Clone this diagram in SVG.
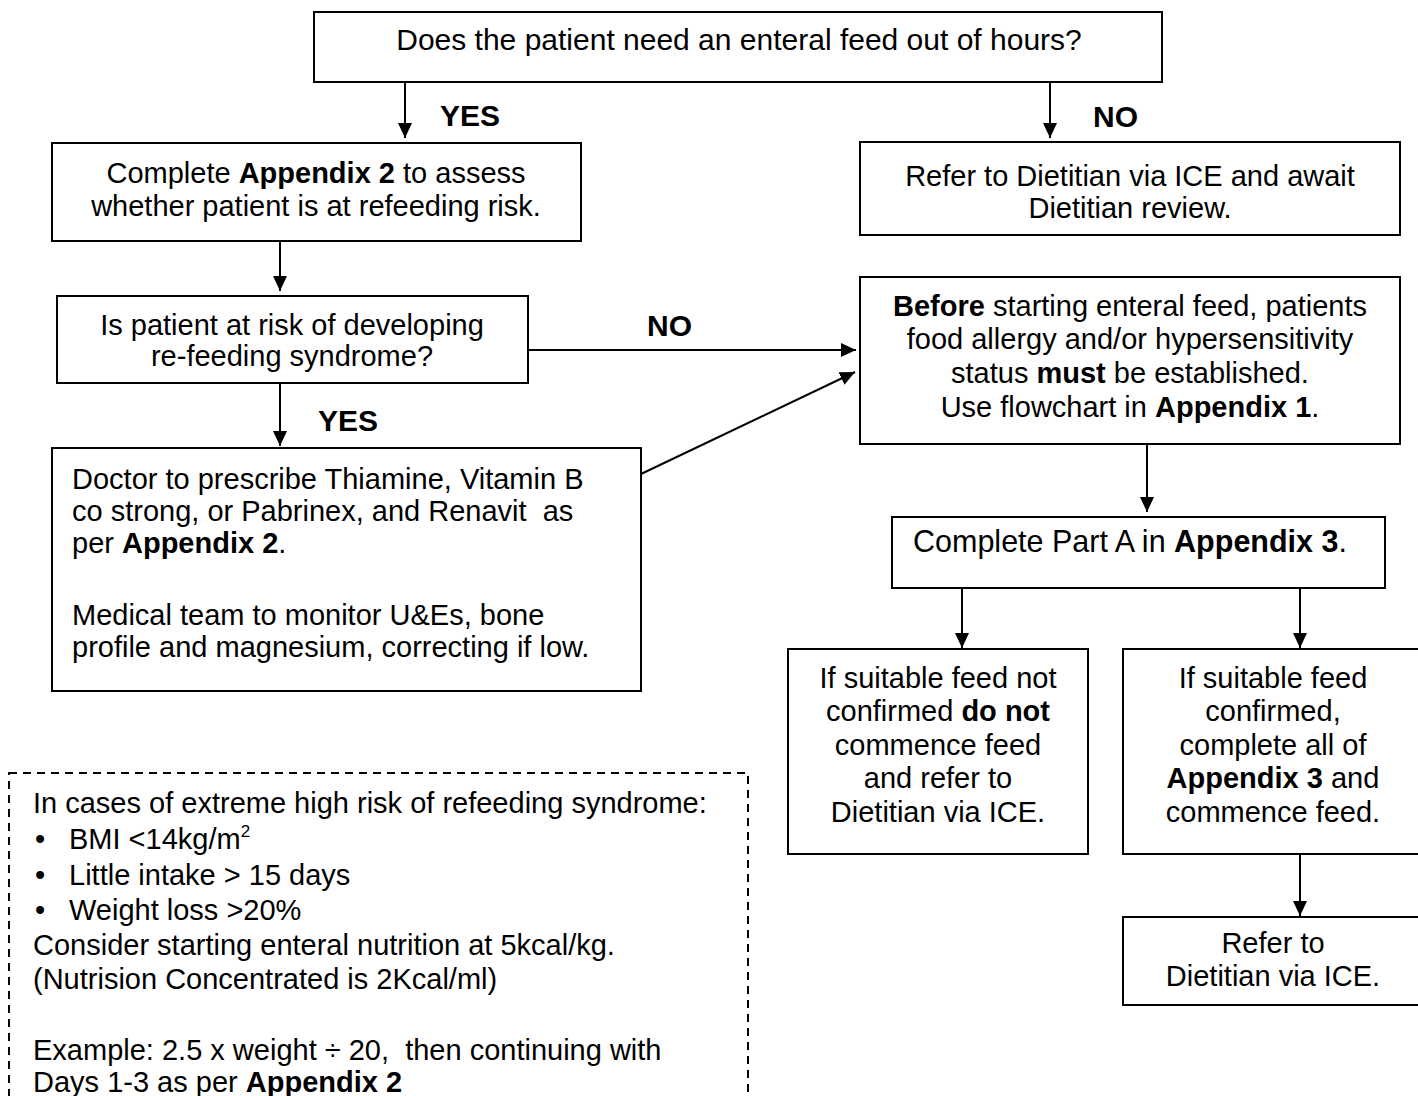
<svg xmlns="http://www.w3.org/2000/svg" width="1418" height="1096" viewBox="0 0 1418 1096">
<defs>
<marker id="ah" viewBox="0 0 15 14" refX="15" refY="7" markerWidth="15" markerHeight="14" markerUnits="userSpaceOnUse" orient="auto">
<path d="M0,0 L15,7 L0,14 z" fill="#000"/>
</marker>
<style>
.box{fill:#fff;stroke:#000;stroke-width:2}
.t{font-family:"Liberation Sans",Arial,sans-serif;font-size:29px;fill:#000}
.c{text-anchor:middle}
.b{font-weight:bold}
.lbl{font-family:"Liberation Sans",Arial,sans-serif;font-size:30px;font-weight:bold;fill:#000}
.ln{stroke:#000;stroke-width:2;fill:none;marker-end:url(#ah)}
</style>
</defs>
<rect width="1418" height="1096" fill="#fff"/>
<g id="connectors">
<line class="ln" x1="405" y1="82" x2="405" y2="138"/>
<line class="ln" x1="1050" y1="82" x2="1050" y2="138"/>
<line class="ln" x1="280" y1="241" x2="280" y2="291"/>
<line class="ln" x1="528" y1="350" x2="856" y2="350"/>
<line class="ln" x1="280" y1="383" x2="280" y2="446"/>
<line class="ln" x1="641" y1="474" x2="855" y2="372"/>
<line class="ln" x1="1147" y1="444" x2="1147" y2="512"/>
<line class="ln" x1="962" y1="588" x2="962" y2="648"/>
<line class="ln" x1="1300" y1="588" x2="1300" y2="648"/>
<line class="ln" x1="1300" y1="854" x2="1300" y2="916"/>
<text class="lbl" x="440" y="126">YES</text>
<text class="lbl" x="1093" y="127">NO</text>
<text class="lbl" x="647" y="336">NO</text>
<text class="lbl" x="318" y="431">YES</text>
</g>
<g id="n-start">
<rect class="box" x="314" y="12" width="848" height="70"/>
<text class="t c" x="739" y="50" style="font-size:30px">Does the patient need an enteral feed out of hours?</text>
</g>
<g id="n-appendix2">
<rect class="box" x="52" y="143" width="529" height="98"/>
<text class="t c" x="316" y="183">Complete <tspan class="b">Appendix 2</tspan> to assess</text>
<text class="t c" x="316" y="216">whether patient is at refeeding risk.</text>
</g>
<g id="n-refer1">
<rect class="box" x="860" y="142" width="540" height="93"/>
<text class="t c" x="1130" y="186">Refer to Dietitian via ICE and await</text>
<text class="t c" x="1130" y="218">Dietitian review.</text>
</g>
<g id="n-risk">
<rect class="box" x="57" y="296" width="471" height="87"/>
<text class="t c" x="292" y="335">Is patient at risk of developing</text>
<text class="t c" x="292" y="366">re-feeding syndrome?</text>
</g>
<g id="n-doctor">
<rect class="box" x="52" y="448" width="589" height="243"/>
<text class="t" x="72" y="489">Doctor to prescribe Thiamine, Vitamin B</text>
<text class="t" x="72" y="521">co strong, or Pabrinex, and Renavit&#160; as</text>
<text class="t" x="72" y="553">per <tspan class="b">Appendix 2</tspan>.</text>
<text class="t" x="72" y="625">Medical team to monitor U&amp;Es, bone</text>
<text class="t" x="72" y="657">profile and magnesium, correcting if low.</text>
</g>
<g id="n-before">
<rect class="box" x="860" y="277" width="540" height="167"/>
<text class="t c" x="1130" y="316"><tspan class="b">Before</tspan> starting enteral feed, patients</text>
<text class="t c" x="1130" y="349">food allergy and/or hypersensitivity</text>
<text class="t c" x="1130" y="383">status <tspan class="b">must</tspan> be established.</text>
<text class="t c" x="1130" y="417">Use flowchart in <tspan class="b">Appendix 1</tspan>.</text>
</g>
<g id="n-parta">
<rect class="box" x="892" y="517" width="493" height="71"/>
<text class="t" x="913" y="552" style="font-size:30.5px">Complete Part A in <tspan class="b">Appendix 3</tspan>.</text>
</g>
<g id="n-notconfirmed">
<rect class="box" x="788" y="649" width="300" height="205"/>
<text class="t c" x="938" y="688">If suitable feed not</text>
<text class="t c" x="938" y="721">confirmed <tspan class="b">do not</tspan></text>
<text class="t c" x="938" y="755">commence feed</text>
<text class="t c" x="938" y="788">and refer to</text>
<text class="t c" x="938" y="822">Dietitian via ICE.</text>
</g>
<g id="n-confirmed">
<rect class="box" x="1123" y="649" width="300" height="205"/>
<text class="t c" x="1273" y="688">If suitable feed</text>
<text class="t c" x="1273" y="721">confirmed,</text>
<text class="t c" x="1273" y="755">complete all of</text>
<text class="t c" x="1273" y="788"><tspan class="b">Appendix 3</tspan> and</text>
<text class="t c" x="1273" y="822">commence feed.</text>
</g>
<g id="n-refer2">
<rect class="box" x="1123" y="917" width="300" height="88"/>
<text class="t c" x="1273" y="953">Refer to</text>
<text class="t c" x="1273" y="986">Dietitian via ICE.</text>
</g>
<g id="n-note">
<rect x="9" y="773" width="739" height="340" fill="none" stroke="#000" stroke-width="2" stroke-dasharray="8,6"/>
<text class="t" x="33" y="813">In cases of extreme high risk of refeeding syndrome:</text>
<text class="t" x="35" y="849">•</text><text class="t" x="69" y="849">BMI &lt;14kg/m<tspan font-size="17" dy="-12">2</tspan></text>
<text class="t" x="35" y="885">•</text><text class="t" x="69" y="885">Little intake &gt; 15 days</text>
<text class="t" x="35" y="920">•</text><text class="t" x="69" y="920">Weight loss &gt;20%</text>
<text class="t" x="33" y="955">Consider starting enteral nutrition at 5kcal/kg.</text>
<text class="t" x="33" y="989">(Nutrision Concentrated is 2Kcal/ml)</text>
<text class="t" x="33" y="1060">Example: 2.5 x weight ÷ 20,&#160; then continuing with</text>
<text class="t" x="33" y="1092">Days 1-3 as per <tspan class="b">Appendix 2</tspan></text>
</g>
</svg>
